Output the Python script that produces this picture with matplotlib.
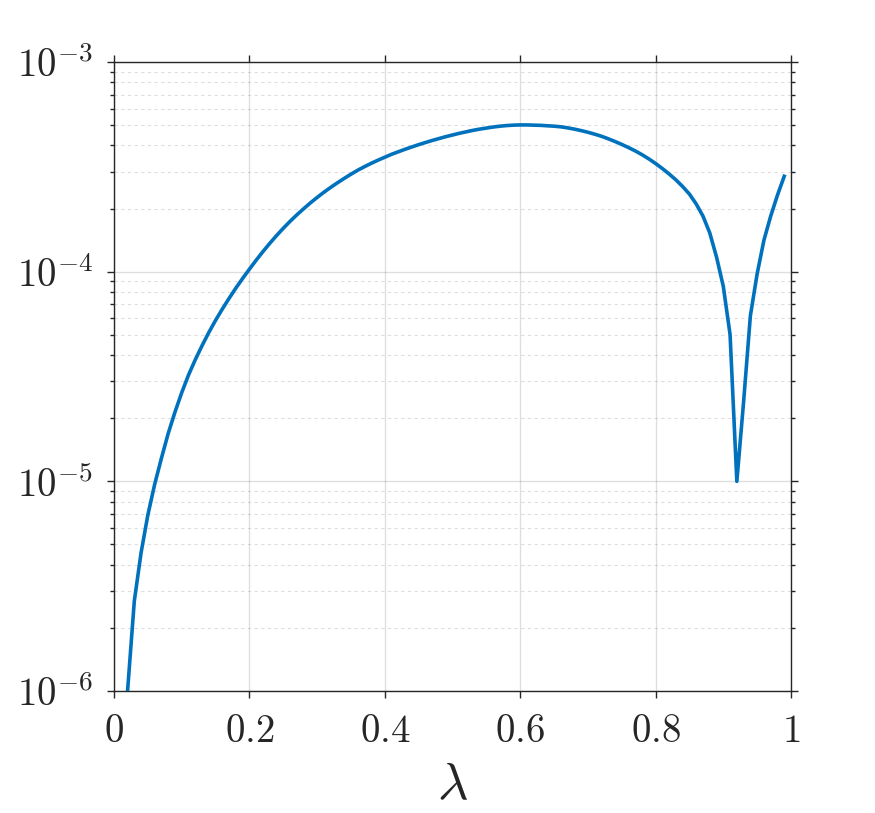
import numpy as np
import matplotlib.pyplot as plt
from matplotlib.ticker import LogLocator, NullFormatter, NullLocator

plt.rcParams['mathtext.fontset'] = 'cm'

# lambda samples and log10 of the error
lam = np.round(np.arange(0.02, 0.995, 0.01), 2)
log_err = [-6.00, -5.57, -5.34, -5.16, -5.015, -4.89, -4.772, -4.670, -4.577,                 # 0.02-0.10
           -4.493, -4.420, -4.353, -4.29, -4.232, -4.178, -4.127, -4.078, -4.032, -3.988,      # 0.11-0.20
           -3.945, -3.904, -3.865, -3.828, -3.793, -3.760, -3.729, -3.700, -3.672, -3.646,     # 0.21-0.30
           -3.621, -3.598, -3.576, -3.555, -3.535, -3.516, -3.499, -3.483, -3.468, -3.454,     # 0.31-0.40
           -3.440, -3.428, -3.416, -3.405, -3.394, -3.384, -3.374, -3.365, -3.356, -3.348,     # 0.41-0.50
           -3.340, -3.333, -3.326, -3.320, -3.315, -3.310, -3.306, -3.303, -3.301, -3.300,     # 0.51-0.60
           -3.300, -3.301, -3.302, -3.304, -3.306, -3.309, -3.314, -3.320, -3.327, -3.335,     # 0.61-0.70
           -3.344, -3.354, -3.366, -3.379, -3.393, -3.408, -3.424, -3.442, -3.462, -3.484,     # 0.71-0.80
           -3.508, -3.534, -3.562, -3.594, -3.630, -3.677, -3.735, -3.815, -3.93, -4.07,       # 0.81-0.90
           -4.30, -5.00, -4.62, -4.21, -4.01, -3.85, -3.735, -3.635, -3.545]                   # 0.91-0.99
err = 10.0 ** np.array(log_err)

xticks = [0, 0.2, 0.4, 0.6, 0.8, 1]
xticklabels = [r'$0$', r'$0.2$', r'$0.4$', r'$0.6$', r'$0.8$', r'$1$']
yticks = [1e-6, 1e-5, 1e-4, 1e-3]
yticklabels = [r'$10^{-6}$', r'$10^{-5}$', r'$10^{-4}$', r'$10^{-3}$']

dark = (0.15, 0.15, 0.15)

fig = plt.figure(figsize=(8.75, 8.13), dpi=100)
ax = fig.add_axes([0.1303, 0.150, 0.7737, 0.7737])

ax.plot(lam, err, color=(0, 0.447, 0.741), lw=2.6, zorder=3)

ax.set_yscale('log')
ax.set_xlim(0, 1)
ax.set_ylim(1e-6, 1e-3)

ax.set_xticks(xticks)
ax.set_xticklabels(xticklabels)
ax.xaxis.set_minor_locator(NullLocator())
ax.set_yticks(yticks)
ax.set_yticklabels(yticklabels)
ax.yaxis.set_minor_locator(LogLocator(base=10, subs=np.arange(2, 10)))
ax.yaxis.set_minor_formatter(NullFormatter())

ax.tick_params(which='both', direction='out', top=True, right=True,
               colors=dark, labelcolor=dark, width=1.0)
ax.tick_params(which='major', length=5, labelsize=28, pad=10)
ax.tick_params(which='minor', length=3)

for s in ax.spines.values():
    s.set_color(dark)
    s.set_linewidth(1.0)

ax.grid(which='major', color=dark, alpha=0.15, lw=1.0)
ax.grid(which='minor', axis='y', color=dark, alpha=0.15, lw=0.8, linestyle=(0, (3, 3)))
ax.set_axisbelow(True)

ax.set_xlabel(r'$\lambda$', fontsize=38, color=dark, labelpad=6)

plt.savefig('out.png', dpi=100)
